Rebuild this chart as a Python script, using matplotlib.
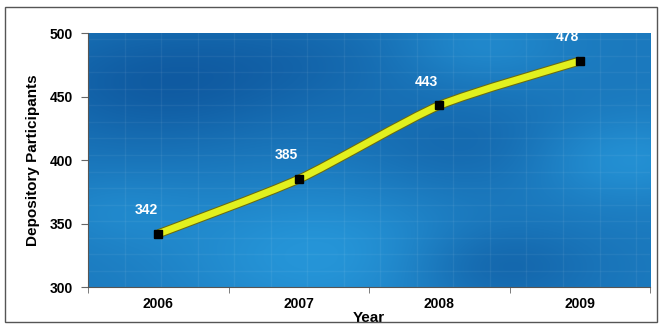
import numpy as np
import matplotlib.pyplot as plt
import matplotlib.patheffects as pe
from matplotlib.path import Path
from matplotlib.patches import PathPatch, Rectangle

years = ['2006', '2007', '2008', '2009']
participants = [342, 385, 443, 478]

plt.rcParams['font.family'] = ['Liberation Sans', 'DejaVu Sans']

fig = plt.figure(figsize=(6.62, 3.27), dpi=100)
fig.patches.append(Rectangle((0.008, 0.015), 0.984, 0.965, transform=fig.transFigure,
                             fill=False, edgecolor='#555555', linewidth=1.0))
ax = fig.add_axes([0.133, 0.122, 0.849, 0.777])

x = np.arange(len(years))
ax.set_xlim(-0.5, len(years) - 0.5)
ax.set_ylim(300, 500)

# blue backdrop: smooth blend of a few soft blobs
gx, gy = np.meshgrid(np.linspace(0, 1, 400), np.linspace(0, 1, 200))
field = np.full_like(gx, 0.55)
for cx, cy, s, w in [(0.12, 0.8, 0.18, -0.35), (0.4, 0.9, 0.15, -0.15), (0.42, 0.12, 0.2, 0.35),
                     (0.72, 0.08, 0.12, -0.3), (0.95, 0.5, 0.12, 0.3), (0.68, 0.55, 0.15, -0.2),
                     (0.7, 0.95, 0.1, 0.2), (0.05, 0.3, 0.1, 0.15)]:
    field += w * np.exp(-((gx - cx) ** 2 + (gy - cy) ** 2) / (2 * s ** 2))
field = np.clip(field, 0, 1)
dark = np.array([0.04, 0.30, 0.58])
light = np.array([0.16, 0.62, 0.88])
img = dark + field[..., None] * (light - dark)
ax.imshow(img, extent=(-0.5, len(years) - 0.5, 300, 500), origin='lower',
          aspect='auto', zorder=0, interpolation='bilinear')
# faint grid texture
for gxl in np.arange(-0.5, 3.5, 0.26):
    ax.axvline(gxl, color='white', alpha=0.06, linewidth=1, zorder=1)
for gyl in np.arange(300, 500, 13):
    ax.axhline(gyl, color='white', alpha=0.05, linewidth=1, zorder=1)

# smooth curve through the points (Catmull-Rom as cubic Beziers)
pts = np.column_stack([x, participants]).astype(float)
verts = [pts[0]]
codes = [Path.MOVETO]
for i in range(len(pts) - 1):
    p0 = pts[max(i - 1, 0)]
    p1, p2 = pts[i], pts[i + 1]
    p3 = pts[min(i + 2, len(pts) - 1)]
    verts += [p1 + (p2 - p0) / 9, p2 - (p3 - p1) / 9, p2]
    codes += [Path.CURVE4] * 3
curve = PathPatch(Path(verts, codes), fill=False, edgecolor='#e2f01e', linewidth=5,
                  capstyle='butt', zorder=2,
                  path_effects=[pe.Stroke(linewidth=6.5, foreground='#6b6a10'), pe.Normal()])
ax.add_patch(curve)
ax.plot(x, participants, linestyle='none', marker='s', markersize=6,
        color='black', zorder=3)

for xi, v in zip(x, participants):
    ax.annotate(str(v), (xi, v), xytext=(-9, 12), textcoords='offset points',
                ha='center', va='bottom', color='white', fontsize=10,
                fontweight='bold', zorder=4)

ax.set_yticks([300, 350, 400, 450, 500])
ax.set_xticks(x)
ax.set_xticklabels(years)
ax.set_xticks(np.arange(len(years) + 1) - 0.5, minor=True)
ax.tick_params(axis='x', which='major', length=0, pad=7)
ax.tick_params(axis='x', which='minor', length=4, color='#666666')
ax.tick_params(axis='y', length=5, color='#666666', pad=6)
for lab in ax.get_xticklabels() + ax.get_yticklabels():
    lab.set_fontweight('bold')
    lab.set_fontsize(10)

for side in ['top', 'right']:
    ax.spines[side].set_visible(False)
for side in ['left', 'bottom']:
    ax.spines[side].set_color('#555555')
    ax.spines[side].set_linewidth(0.8)

ax.set_xlabel('Year', fontsize=11, fontweight='bold', labelpad=0)
ax.set_ylabel('Depository Participants', fontsize=11, fontweight='bold', labelpad=7)

fig.savefig('out.png', dpi=100)
